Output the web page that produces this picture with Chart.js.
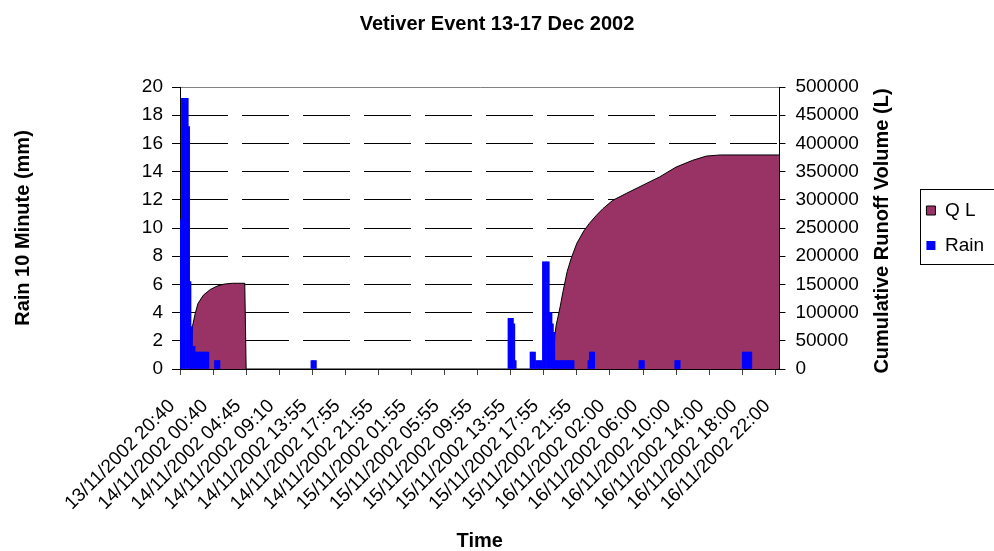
<!DOCTYPE html>
<html><head><meta charset="utf-8">
<script src="https://cdn.jsdelivr.net/npm/chart.js@4.4.1/dist/chart.umd.min.js"></script>
<style>html,body{margin:0;padding:0;background:#fff}#wrap{width:994px;height:551px}</style>
</head><body><div id="wrap"><canvas id="c" width="994" height="551"></canvas></div>
<script>
// ---- data ----
const tickLabels = ["13/11/2002 20:40","14/11/2002 00:40","14/11/2002 04:45","14/11/2002 09:10","14/11/2002 13:55","14/11/2002 17:55","14/11/2002 21:55","15/11/2002 01:55","15/11/2002 05:55","15/11/2002 09:55","15/11/2002 13:55","15/11/2002 17:55","15/11/2002 21:55","16/11/2002 02:00","16/11/2002 06:00","16/11/2002 10:00","16/11/2002 14:00","16/11/2002 18:00","16/11/2002 22:00"];
const stepsPerLabel = 24;   // 10-minute records between labelled ticks
const lastStep = 435;       // number of records on the time axis

// Rain (mm per 10 minutes), by record number
const rainStep = [0,1,2,3,4,5,6,7,8,9,10,11,12,13,14,15,16,17,18,19,20,25,26,27,28,
  95,96,97,98,238,239,240,241,242,243,254,255,256,257,258,259,260,261,262,
  263,264,265,266,267,268,269,270,271,272,273,274,275,276,277,278,279,280,281,282,283,284,285,
  296,297,298,299,300,333,334,335,336,359,360,361,362,408,409,410,411,412,413,414];
const rainMm = [10.6,19.2,19.2,19.2,19.2,19.2,17.2,6.2,3.0,1.6,1.6,1.2,1.2,1.2,1.2,1.2,1.2,1.2,1.2,1.2,1.2,0.6,0.6,0.6,0.6,
  0.6,0.6,0.6,0.6,3.6,3.6,3.6,3.6,3.2,0.6,1.2,1.2,1.2,1.2,0.6,0.6,0.6,0.6,0.6,
  7.6,7.6,7.6,7.6,7.6,4.0,4.0,3.2,2.6,0.6,0.6,0.6,0.6,0.6,0.6,0.6,0.6,0.6,0.6,0.6,0.6,0.6,0.6,
  0.6,1.2,1.2,1.2,1.2,0.6,0.6,0.6,0.6,0.6,0.6,0.6,0.6,1.2,1.2,1.2,1.2,1.2,1.2,1.2];

// Cumulative runoff volume Q (L), by record number
const qStep =   [0,8,9,11,13,17,22,27,32,38,47,48,271,272,273,275,276,278,281,284,288,293,297,302,307,314,324,336,348,360,372,382,392,435];
const qLitres = [0,0,75000,98000,116000,131000,141000,147000,150500,152000,152000,0,0,60000,78000,100000,112000,138000,173000,197000,223000,244500,258000,272000,284500,299000,311500,326000,340500,358000,370000,377500,379500,379500];

// ---- chart ----
const FONT = '"Liberation Sans", Arial, Helvetica, sans-serif';

const rainData = rainStep.map((s, i) => ({x: s + 0.5, y: rainMm[i]}));
const qData = qStep.map((s, i) => ({x: s, y: qLitres[i]}));

const extras = {
  id: 'extras',
  afterDraw(chart) {
    const ctx = chart.ctx;
    // right axis title (reads bottom-to-top)
    ctx.save();
    ctx.translate(882, 231);
    ctx.rotate(-Math.PI / 2);
    ctx.font = 'bold 20px ' + FONT;
    ctx.fillStyle = '#000';
    ctx.textAlign = 'center';
    ctx.textBaseline = 'middle';
    ctx.fillText('Cumulative Runoff Volume (L)', 0, 0);
    ctx.restore();
    // legend frame
    const lg = chart.legend;
    if (lg && lg.legendHitBoxes && lg.legendHitBoxes.length) {
      const hb = lg.legendHitBoxes;
      const first = hb[0], last = hb[hb.length - 1];
      const x0 = Math.round(first.left - 6) + 0.5;
      const y0 = Math.round(first.top - 12) + 0.5;
      const y1 = Math.round(last.top + last.height + 9) + 0.5;
      ctx.save();
      ctx.strokeStyle = '#000';
      ctx.lineWidth = 1;
      ctx.strokeRect(x0, y0, chart.width + 10 - x0, y1 - y0);
      ctx.restore();
    }
  }
};

new Chart(document.getElementById('c'), {
  type: 'bar',
  data: {
    datasets: [
      {
        type: 'line', label: 'Q L', data: qData, yAxisID: 'y1', order: 1,
        borderColor: '#000000', borderWidth: 1, backgroundColor: '#993366',
        fill: 'origin', pointRadius: 0, tension: 0
      },
      {
        type: 'bar', label: 'Rain', data: rainData, yAxisID: 'y', order: 0,
        backgroundColor: '#0000FF', borderWidth: 0,
        barPercentage: 1.0, categoryPercentage: 1.0
      }
    ]
  },
  options: {
    responsive: false,
    animation: false,
    layout: { padding: 0 },
    plugins: {
      tooltip: { enabled: false },
      title: {
        display: true, text: 'Vetiver Event 13-17 Dec 2002', color: '#000',
        font: { family: FONT, size: 20, weight: 'bold', lineHeight: 1 },
        padding: { top: 14, bottom: 53 }
      },
      legend: {
        position: 'right', fullSize: false,
        labels: {
          color: '#000', font: { family: FONT, size: 19 },
          boxWidth: 9, boxHeight: 9, padding: 16,
          sort: (a, b) => a.datasetIndex - b.datasetIndex
        }
      }
    },
    scales: {
      x: {
        type: 'linear', position: 'bottom', min: 0, max: lastStep, offset: false,
        afterBuildTicks: (scale) => { scale.ticks = tickLabels.map((_, i) => ({value: i * stepsPerLabel})); },
        afterFit: (scale) => { scale.height = 182; },
        ticks: {
          autoSkip: false, maxRotation: 45, minRotation: 45, includeBounds: false,
          color: '#000', font: { family: FONT, size: 19 }, padding: 20, labelOffset: -8,
          callback: (v) => tickLabels[Math.round(v / stepsPerLabel)]
        },
        grid: { offset: false, drawOnChartArea: false, drawTicks: true, tickLength: 6, color: '#404040' },
        border: { display: true, color: '#000', width: 1 },
        title: { display: true, text: 'Time', color: '#000', font: { family: FONT, size: 20, weight: 'bold', lineHeight: 1 }, padding: { top: 0, bottom: 0 } }
      },
      y: {
        type: 'linear', position: 'left', min: 0, max: 20,
        afterFit: (scale) => { scale.width = 180; },
        ticks: { stepSize: 2, maxTicksLimit: 100, color: '#000', font: { family: FONT, size: 19 }, padding: 9 },
        grid: {
          drawOnChartArea: true, drawTicks: true, tickLength: 8,
          color: (c) => (c.tick && c.tick.value === 20) ? '#808080' : '#000',
          tickColor: '#000'
        },
        border: { display: true, color: '#000', width: 1, dash: (c) => (c.tick && c.tick.value === 20) ? [] : [47, 14] },
        title: { display: true, text: 'Rain 10 Minute (mm)', color: '#000', font: { family: FONT, size: 20, weight: 'bold', lineHeight: 1 }, padding: { top: 13, bottom: 0 } }
      },
      y1: {
        type: 'linear', position: 'right', min: 0, max: 500000,
        afterFit: (scale) => { scale.width = 131; },
        ticks: { stepSize: 50000, maxTicksLimit: 100, color: '#000', font: { family: FONT, size: 19 }, padding: 10, callback: (v) => String(v) },
        grid: { drawOnChartArea: false, drawTicks: true, tickLength: 6, color: '#000' },
        border: { display: true, color: '#000', width: 1 }
      }
    }
  },
  plugins: [extras]
});
</script>
</body></html>
